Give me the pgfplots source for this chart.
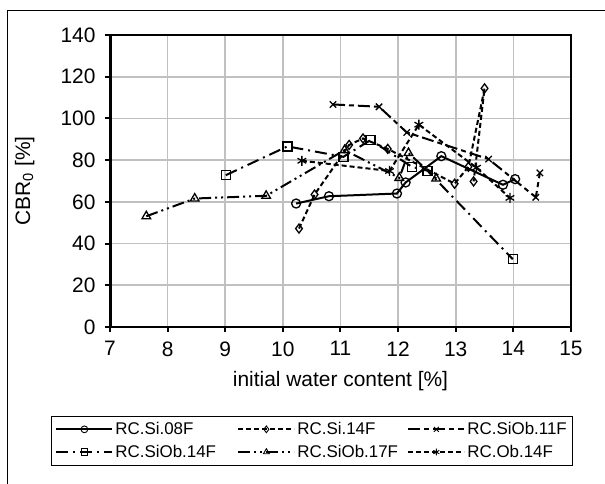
\documentclass[border=0pt]{standalone}
\usepackage{pgfplots}
\pgfplotsset{compat=1.18}
\usepackage{fontspec}
\setmainfont{Liberation Sans}
\definecolor{gridgray}{HTML}{C0C0C0}

\begin{document}
\begin{tikzpicture}
\useasboundingbox (0,0) rectangle (605bp,-484bp);
\draw[line width=1bp] (7.5bp,-484bp) -- (7.5bp,-10bp) -- (605bp,-10bp);

\begin{axis}[
    scale only axis,
    width=461bp, height=292bp,
    at={(110bp,-327bp)}, anchor=south west,
    xmin=7, xmax=15, ymin=0, ymax=140,
    xtick={7,8,...,15}, ytick={0,20,...,140},
    xtick pos=left, ytick pos=left,
    tick align=outside,
    major tick length=5bp,
    tick style={line width=2bp, black},
    grid=major,
    grid style={gridgray, line width=1.6bp},
    axis line style={line width=2bp},
    /pgf/number format/assume math mode=true,
    tick label style={font=\fontsize{21}{24}\selectfont},
    yticklabel style={xshift=-6bp},
    xticklabel style={yshift=-6bp},
    label style={font=\fontsize{21}{24}\selectfont},
    xlabel={initial water content [\%]},
    ylabel={CBR\textsubscript{0} [\%]},
    xlabel style={at={(axis description cs:0.5,-0.185)}, anchor=center},
    ylabel style={at={(axis description cs:-0.185,0.5)}, anchor=center},
    legend columns=3,
    legend cell align=left,
    legend style={at={(-0.128,-0.305)}, anchor=north west,
        draw=black, line width=0.8bp,
        font=\fontsize{17}{19}\selectfont,
        inner xsep=4bp, inner ysep=4bp,
        row sep=5bp},
    legend image code/.code={
        \draw[mark repeat=2,mark phase=2, mark size=3.4bp,
              every mark/.append style={line width=0.9bp}]
        plot coordinates {(0bp,0bp)(28bp,0bp)(56bp,0bp)};},
    every axis plot/.append style={line width=2bp, black},
]

\addplot[solid, mark=o, mark size=4.5bp,
    mark options={solid, fill=white, line width=1.3bp}]
  coordinates {(10.23,59.2) (10.80,62.7) (11.98,64.0) (12.13,69.3) (12.75,81.9) (13.82,68.2) (14.03,70.9)};
\addlegendentry{\makebox[120bp][l]{RC.Si.08F}}

\addplot[dash pattern=on 5bp off 3bp, mark=diamond, mark size=4.5bp,
    mark options={solid, fill=white, line width=1.3bp}]
  coordinates {(10.28,47.2) (10.55,63.5) (11.15,87.3) (11.39,90.4) (11.82,85.4) (12.98,68.7) (13.22,76.8) (13.50,114.4) (13.31,69.8)};
\addlegendentry{\makebox[108bp][l]{RC.Si.14F}}

\addplot[dash pattern=on 12bp off 4bp on 5bp off 4bp, mark=x, mark size=4.5bp,
    mark options={solid, line width=1.3bp}]
  coordinates {(10.87,106.7) (11.67,105.6) (12.15,93.3) (13.57,80.5) (14.39,62.2) (14.46,73.9)};
\addlegendentry{RC.SiOb.11F}

\addplot[dash pattern=on 12bp off 5bp on 2bp off 5bp, mark=square, mark size=4.5bp,
    mark options={solid, fill=white, line width=1.3bp}]
  coordinates {(9.01,72.8) (10.08,86.6) (11.05,81.6) (11.52,89.6) (12.24,76.8) (12.51,74.9) (13.99,32.5)};
\addlegendentry{\makebox[120bp][l]{RC.SiOb.14F}}

\addplot[dash pattern=on 12bp off 4bp on 2bp off 4bp on 2bp off 4bp, mark=triangle, mark size=5bp,
    mark options={solid, fill=white, line width=1.3bp}]
  coordinates {(7.63,53.1) (8.47,61.6) (9.71,62.9) (11.07,84.8) (12.02,71.5) (12.18,83.4) (12.66,71.2)};
\addlegendentry{\makebox[108bp][l]{RC.SiOb.17F}}

\addplot[dash pattern=on 5bp off 3bp, mark=asterisk, mark size=5bp,
    mark options={solid, line width=1.3bp}]
  coordinates {(10.33,79.7) (11.85,74.8) (12.36,97.0) (13.36,76.4) (13.94,61.9)};
\addlegendentry{RC.Ob.14F}

\draw[line width=3.5bp] (axis cs:7,0) -- (axis cs:7,140);
\end{axis}
\end{tikzpicture}
\end{document}
